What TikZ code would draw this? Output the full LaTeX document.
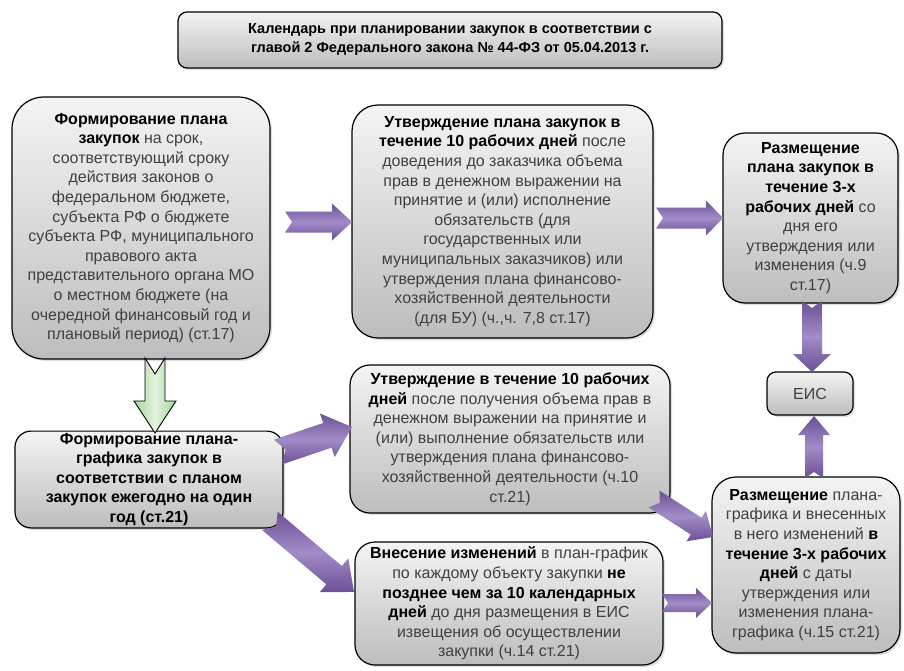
\documentclass[tikz,border=0pt]{standalone}
\usepackage{fontspec}
\setmainfont{Liberation Sans}
\usetikzlibrary{shadows}
\definecolor{boxtop}{HTML}{F4F4F4}
\definecolor{boxbot}{HTML}{BDBDBD}
\definecolor{txtgray}{HTML}{404040}
\definecolor{purpA}{HTML}{6C5096}
\definecolor{purpB}{HTML}{A28CC8}
\definecolor{grnA}{HTML}{A6D39D}
\definecolor{grnB}{HTML}{E2F3DD}
\newcommand\bt[1]{\textbf{\color{black}#1}}
% block arrow: #1 from, #2 to, #3 shaft half width, #4 head half width, #5 head length, #6 notch depth, #7 style
\newcommand\bArrow[7]{%
  \pgfpointdiff{\pgfpointanchor{#1}{center}}{\pgfpointanchor{#2}{center}}%
  \pgfgetlastxy{\baDx}{\baDy}%
  \pgfmathsetmacro\baAng{atan2(\baDy,\baDx)}%
  \pgfmathsetmacro\baLen{veclen(\baDx,\baDy)}%
  \pgfmathsetmacro\baHb{\baLen-#5}%
  \begin{scope}[shift={(#1)},rotate=\baAng]
    \path[#7] (0pt,#3pt) -- (\baHb pt,#3pt) -- (\baHb pt,#4pt) -- (\baLen pt,0pt)
      -- (\baHb pt,-#4pt) -- (\baHb pt,-#3pt) -- (0pt,-#3pt) -- (#6pt,0pt) -- cycle;
  \end{scope}}
\begin{document}
\begin{tikzpicture}[x=1pt,y=-1pt,
  box/.style={draw=black, line width=1.2pt, top color=boxtop, bottom color=boxbot,
    align=center, inner sep=2pt, text=txtgray, font=\fontsize{16}{19.6}\selectfont,
    drop shadow={shadow xshift=2pt,shadow yshift=-2pt,opacity=0.25}},
  parrow/.style={top color=purpA, bottom color=purpA, middle color=purpB},
  garrow/.style={draw=black, line width=0.9pt, line join=miter, left color=grnA, right color=grnA, middle color=grnB}]
\useasboundingbox (0,0) rectangle (904,671);
\fill[white] (0,0) rectangle (904,671);

\node[box, rounded corners=9pt, minimum width=544pt, minimum height=56pt,
  font=\fontsize{14.5}{19}\selectfont\bfseries, text=black] (title) at (450,40)
  {Календарь при планировании закупок в соответствии с\\главой 2 Федерального закона № 44-ФЗ от 05.04.2013 г.};

\node[box, rounded corners=32pt, minimum width=258pt, minimum height=262pt] (b1) at (141,228)
  {\bt{Формирование плана}\\
   \bt{закупок} на срок,\\
   соответствующий сроку\\
   действия законов о\\
   федеральном бюджете,\\
   субъекта РФ о бюджете\\
   субъекта РФ, муниципального\\
   правового акта\\
   представительного органа МО\\
   о местном бюджете (на\\
   очередной финансовый год и\\
   плановый период) (ст.17)};

\node[box, rounded corners=26pt, minimum width=301pt, minimum height=233pt] (b2) at (502.5,221.5)
  {\bt{Утверждение плана закупок в}\\
   \bt{течение 10 рабочих дней} после\\
   доведения до заказчика объема\\
   прав в денежном выражении на\\
   принятие и (или) исполнение\\
   обязательств (для\\
   государственных или\\
   муниципальных заказчиков) или\\
   утверждения плана финансово-\\
   хозяйственной деятельности\\
   (для БУ) (ч.,ч. 7,8 ст.17)};

\node[box, rounded corners=22pt, minimum width=175pt, minimum height=170pt] (b3) at (810.5,218)
  {\bt{Размещение}\\
   \bt{плана закупок в}\\
   \bt{течение 3-х}\\
   \bt{рабочих дней} со\\
   дня его\\
   утверждения или\\
   изменения (ч.9\\
   ст.17)};

\node[box, rounded corners=9pt, minimum width=86pt, minimum height=43pt] (eis) at (810,393.5) {ЕИС};

\node[box, rounded corners=16pt, minimum width=268pt, minimum height=95pt] (b4) at (149,479.5)
  {\bt{Формирование плана-}\\
   \bt{графика закупок в}\\
   \bt{соответствии с планом}\\
   \bt{закупок ежегодно на один}\\
   \bt{год (ст.21)}};

\node[box, rounded corners=20pt, minimum width=320pt, minimum height=148pt] (b5) at (510,439)
  {\bt{Утверждение в течение 10 рабочих}\\
   \bt{дней} после получения объема прав в\\
   денежном выражении на принятие и\\
   (или) выполнение обязательств или\\
   утверждения плана финансово-\\
   хозяйственной деятельности (ч.10\\
   ст.21)};

\node[box, rounded corners=20pt, minimum width=308pt, minimum height=123pt] (b6) at (509,603.5)
  {\bt{Внесение изменений} в план-график\\
   по каждому объекту закупки \bt{не}\\
   \bt{позднее чем за 10 календарных}\\
   \bt{дней} до дня размещения в ЕИС\\
   извещения об осуществлении\\
   закупки (ч.14 ст.21)};

\node[box, rounded corners=24pt, minimum width=188pt, minimum height=176pt] (b7) at (806,565)
  {\bt{Размещение} плана-\\
   графика и внесенных\\
   в него изменений \bt{в}\\
   \bt{течение 3-х рабочих}\\
   \bt{дней} с даты\\
   утверждения или\\
   изменения плана-\\
   графика (ч.15 ст.21)};

% connector end points
\coordinate (a1s) at (285,222); \coordinate (a1e) at (352,222);
\coordinate (a2s) at (656,218); \coordinate (a2e) at (723,218);
\coordinate (a3s) at (812,301); \coordinate (a3e) at (812,372);
\coordinate (a4s) at (814,478); \coordinate (a4e) at (814,416);
\coordinate (a5s) at (278,452); \coordinate (a5e) at (352,427);
\coordinate (a6s) at (270,521); \coordinate (a6e) at (354,592);
\coordinate (a7s) at (654,499); \coordinate (a7e) at (713,537);
\coordinate (a8s) at (662,603); \coordinate (a8e) at (712,603);
\coordinate (gs) at (155,358); \coordinate (ge) at (155,433);

\bArrow{a1s}{a1e}{10.5}{18.5}{20}{7}{parrow}
\bArrow{a2s}{a2e}{10.5}{17.5}{17}{7}{parrow}
\bArrow{a3s}{a3e}{10}{19}{18}{7}{parrow}
\bArrow{a4s}{a4e}{9}{16}{19}{6}{parrow}
\bArrow{a5s}{a5e}{13}{23}{26}{8}{parrow}
\bArrow{a6s}{a6e}{12}{22}{26}{8}{parrow}
\bArrow{a7s}{a7e}{10}{18}{20}{7}{parrow}
\bArrow{a8s}{a8e}{9}{15}{16}{6}{parrow}
\bArrow{gs}{ge}{10}{21}{32}{16}{garrow}
\end{tikzpicture}
\end{document}
